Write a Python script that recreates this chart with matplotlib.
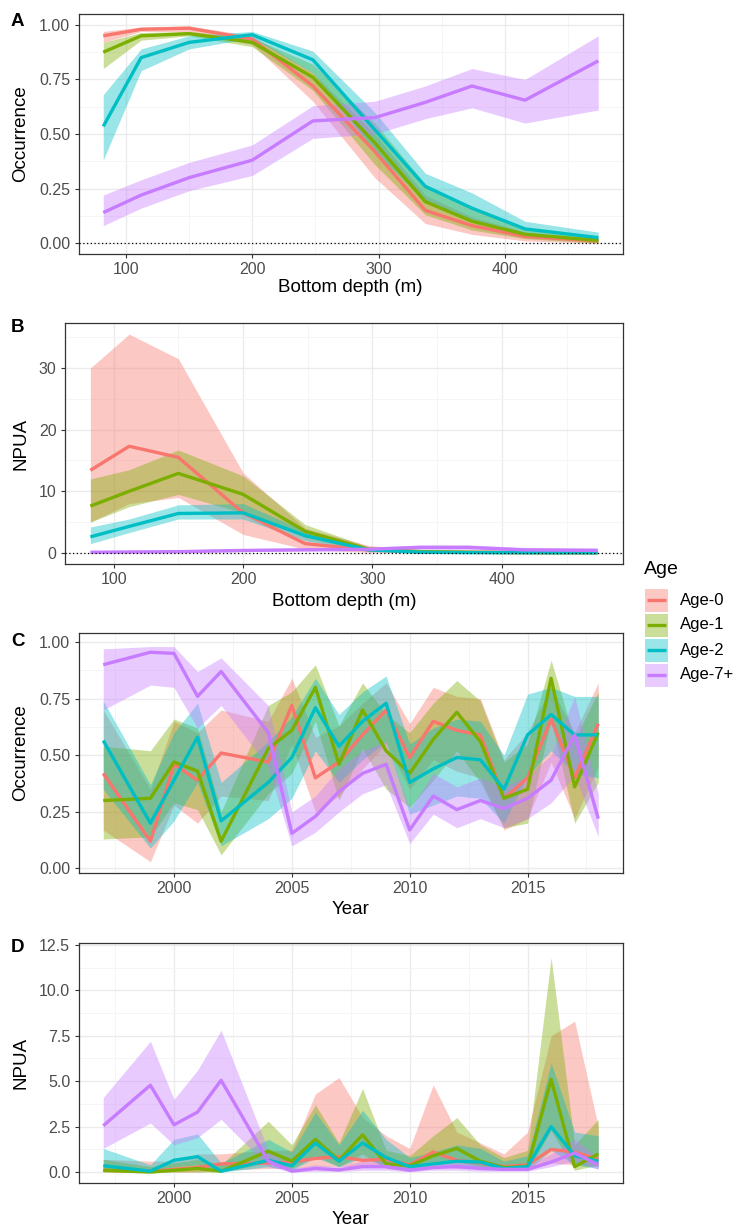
import matplotlib
matplotlib.use("Agg")
import matplotlib.pyplot as plt
from matplotlib.lines import Line2D
from matplotlib.patches import Rectangle
from matplotlib.ticker import AutoMinorLocator

plt.rcParams['font.family'] = ['Liberation Sans', 'DejaVu Sans']

ages = ["Age-0", "Age-1", "Age-2", "Age-7+"]
colors = ["#F8766D", "#7CAE00", "#00BFC4", "#C77CFF"]

depth = [82, 112, 150, 200, 248, 297, 337, 374, 416, 474]
years = [1997, 1999, 2000, 2001, 2002, 2004, 2005, 2006, 2007, 2008,
         2009, 2010, 2011, 2012, 2013, 2014, 2015, 2016, 2017, 2018]

# A: occurrence vs depth
occ_depth = {
    "Age-0": [0.95, 0.98, 0.985, 0.935, 0.72, 0.42, 0.15, 0.08, 0.03, 0.01],
    "Age-1": [0.875, 0.95, 0.96, 0.92, 0.76, 0.46, 0.19, 0.10, 0.04, 0.012],
    "Age-2": [0.535, 0.85, 0.92, 0.955, 0.84, 0.52, 0.26, 0.16, 0.065, 0.025],
    "Age-7+": [0.14, 0.22, 0.30, 0.38, 0.56, 0.575, 0.645, 0.72, 0.655, 0.835],
}
occ_depth_lo = {
    "Age-0": [0.92, 0.97, 0.97, 0.91, 0.65, 0.30, 0.09, 0.04, 0.01, 0.0],
    "Age-1": [0.80, 0.93, 0.95, 0.90, 0.70, 0.36, 0.13, 0.06, 0.02, 0.0],
    "Age-2": [0.38, 0.79, 0.89, 0.94, 0.78, 0.42, 0.19, 0.10, 0.04, 0.01],
    "Age-7+": [0.08, 0.16, 0.24, 0.31, 0.48, 0.50, 0.57, 0.62, 0.55, 0.61],
}
occ_depth_hi = {
    "Age-0": [0.97, 0.99, 0.995, 0.95, 0.78, 0.50, 0.22, 0.12, 0.05, 0.02],
    "Age-1": [0.92, 0.965, 0.97, 0.94, 0.82, 0.55, 0.27, 0.16, 0.07, 0.03],
    "Age-2": [0.68, 0.89, 0.95, 0.97, 0.88, 0.60, 0.32, 0.23, 0.10, 0.05],
    "Age-7+": [0.22, 0.29, 0.37, 0.45, 0.63, 0.65, 0.72, 0.80, 0.75, 0.95],
}

# B: NPUA vs depth
npua_depth = {
    "Age-0": [13.4, 17.3, 15.5, 6.5, 1.5, 0.5, 0.2, 0.1, 0.05, 0.02],
    "Age-1": [7.6, 10.0, 12.9, 9.5, 3.5, 0.6, 0.2, 0.1, 0.05, 0.03],
    "Age-2": [2.6, 4.3, 6.4, 6.5, 2.8, 0.5, 0.1, 0.05, 0.03, 0.02],
    "Age-7+": [0.1, 0.15, 0.2, 0.4, 0.5, 0.6, 0.9, 0.9, 0.5, 0.4],
}
npua_depth_lo = {
    "Age-0": [5.0, 8.0, 9.0, 3.0, 0.6, 0.1, 0.05, 0.02, 0.01, 0.0],
    "Age-1": [5.0, 7.5, 9.5, 6.5, 2.5, 0.3, 0.1, 0.05, 0.02, 0.01],
    "Age-2": [1.5, 3.3, 5.5, 5.5, 2.0, 0.2, 0.05, 0.02, 0.01, 0.0],
    "Age-7+": [0.0, 0.05, 0.1, 0.2, 0.3, 0.3, 0.5, 0.5, 0.2, 0.1],
}
npua_depth_hi = {
    "Age-0": [30.0, 35.5, 31.5, 13.0, 4.0, 1.2, 0.5, 0.3, 0.2, 0.1],
    "Age-1": [12.0, 13.5, 16.7, 12.5, 4.6, 1.0, 0.4, 0.2, 0.1, 0.08],
    "Age-2": [4.2, 5.5, 7.8, 8.0, 3.6, 0.9, 0.3, 0.15, 0.1, 0.08],
    "Age-7+": [0.4, 0.4, 0.5, 0.7, 0.8, 0.9, 1.3, 1.3, 0.9, 0.8],
}

# C: occurrence vs year
occ_year = {
    "Age-0": [0.42, 0.12, 0.46, 0.39, 0.51, 0.47, 0.72, 0.40, 0.47, 0.59,
              0.70, 0.49, 0.65, 0.61, 0.59, 0.31, 0.40, 0.66, 0.40, 0.64],
    "Age-1": [0.30, 0.31, 0.47, 0.43, 0.12, 0.53, 0.61, 0.80, 0.46, 0.70,
              0.52, 0.42, 0.57, 0.69, 0.56, 0.31, 0.35, 0.84, 0.36, 0.60],
    "Age-2": [0.565, 0.20, 0.39, 0.58, 0.21, 0.38, 0.49, 0.71, 0.54, 0.65,
              0.73, 0.38, 0.44, 0.49, 0.48, 0.35, 0.59, 0.68, 0.59, 0.59],
    "Age-7+": [0.90, 0.955, 0.95, 0.76, 0.87, 0.60, 0.155, 0.23, 0.34, 0.42,
               0.46, 0.17, 0.32, 0.26, 0.30, 0.265, 0.31, 0.39, 0.59, 0.22],
}
occ_year_lo = {
    "Age-0": [0.17, 0.03, 0.28, 0.20, 0.32, 0.30, 0.55, 0.25, 0.32, 0.44,
              0.55, 0.35, 0.48, 0.43, 0.40, 0.17, 0.22, 0.47, 0.22, 0.45],
    "Age-1": [0.13, 0.14, 0.29, 0.26, 0.06, 0.33, 0.42, 0.65, 0.30, 0.53,
              0.35, 0.27, 0.39, 0.52, 0.38, 0.18, 0.20, 0.66, 0.20, 0.38],
    "Age-2": [0.35, 0.09, 0.21, 0.38, 0.10, 0.22, 0.31, 0.52, 0.38, 0.48,
              0.56, 0.24, 0.28, 0.32, 0.31, 0.20, 0.41, 0.52, 0.42, 0.40],
    "Age-7+": [0.70, 0.81, 0.80, 0.62, 0.72, 0.45, 0.10, 0.16, 0.25, 0.33,
               0.37, 0.11, 0.24, 0.18, 0.22, 0.18, 0.22, 0.29, 0.41, 0.14],
}
occ_year_hi = {
    "Age-0": [0.70, 0.35, 0.65, 0.60, 0.70, 0.65, 0.84, 0.58, 0.63, 0.73,
              0.82, 0.64, 0.80, 0.76, 0.75, 0.48, 0.60, 0.80, 0.60, 0.82],
    "Age-1": [0.54, 0.52, 0.66, 0.62, 0.25, 0.72, 0.78, 0.90, 0.63, 0.82,
              0.68, 0.60, 0.73, 0.83, 0.74, 0.47, 0.55, 0.92, 0.57, 0.78],
    "Age-2": [0.74, 0.37, 0.60, 0.73, 0.38, 0.56, 0.67, 0.84, 0.68, 0.78,
              0.85, 0.55, 0.62, 0.66, 0.65, 0.50, 0.77, 0.80, 0.76, 0.76],
    "Age-7+": [0.97, 0.98, 0.98, 0.87, 0.93, 0.72, 0.25, 0.32, 0.44, 0.52,
               0.56, 0.26, 0.42, 0.36, 0.40, 0.36, 0.41, 0.50, 0.76, 0.33],
}

# D: NPUA vs year
npua_year = {
    "Age-0": [0.1, 0.05, 0.15, 0.25, 0.45, 0.5, 0.55, 0.75, 0.85, 0.65,
              0.7, 0.4, 1.1, 0.65, 0.5, 0.3, 0.4, 1.25, 1.1, 0.7],
    "Age-1": [0.1, 0.0, 0.1, 0.2, 0.05, 1.15, 0.6, 1.8, 0.65, 2.05,
              0.45, 0.35, 0.9, 1.3, 0.6, 0.25, 0.3, 5.1, 0.3, 1.0],
    "Age-2": [0.35, 0.05, 0.65, 0.85, 0.05, 0.65, 0.35, 1.6, 0.6, 1.6,
              0.8, 0.3, 0.45, 0.6, 0.55, 0.2, 0.3, 2.5, 0.9, 0.6],
    "Age-7+": [2.55, 4.78, 2.6, 3.3, 5.05, 0.6, 0.05, 0.2, 0.12, 0.3,
               0.3, 0.1, 0.25, 0.3, 0.2, 0.15, 0.15, 0.55, 1.05, 0.4],
}
npua_year_lo = {
    "Age-0": [0.0, 0.0, 0.0, 0.0, 0.1, 0.2, 0.2, 0.3, 0.3, 0.3,
              0.3, 0.1, 0.4, 0.2, 0.2, 0.1, 0.1, 0.5, 0.4, 0.3],
    "Age-1": [0.0, 0.0, 0.0, 0.0, 0.0, 0.5, 0.2, 0.9, 0.3, 1.0,
              0.2, 0.1, 0.4, 0.6, 0.3, 0.1, 0.1, 2.3, 0.1, 0.4],
    "Age-2": [0.1, 0.0, 0.3, 0.4, 0.0, 0.3, 0.1, 0.8, 0.3, 0.8,
              0.3, 0.1, 0.2, 0.3, 0.2, 0.1, 0.1, 1.2, 0.4, 0.2],
    "Age-7+": [1.3, 2.7, 1.5, 1.9, 2.9, 0.3, 0.0, 0.05, 0.03, 0.1,
               0.1, 0.02, 0.1, 0.1, 0.05, 0.05, 0.05, 0.3, 0.6, 0.15],
}
npua_year_hi = {
    "Age-0": [0.7, 0.6, 0.6, 1.0, 1.0, 1.2, 1.2, 4.3, 5.2, 3.0,
              2.0, 1.3, 4.8, 2.2, 1.6, 1.0, 2.2, 7.5, 8.3, 2.5],
    "Age-1": [0.7, 0.3, 0.5, 0.7, 0.4, 2.8, 1.5, 3.7, 1.6, 4.6,
              1.2, 0.9, 2.0, 3.0, 1.5, 0.8, 1.2, 11.8, 1.5, 2.9],
    "Age-2": [1.3, 0.4, 1.8, 2.1, 0.5, 1.8, 1.1, 3.3, 1.5, 3.4,
              1.8, 0.8, 1.1, 1.5, 1.3, 0.6, 0.9, 6.0, 2.2, 2.0],
    "Age-7+": [4.1, 7.2, 4.0, 5.6, 7.8, 1.2, 0.2, 0.4, 0.3, 0.6,
               0.6, 0.3, 0.5, 0.6, 0.4, 0.35, 0.35, 1.0, 1.8, 0.8],
}

W, H = 736, 1231
fig = plt.figure(figsize=(W / 100, H / 100), dpi=100)


def fx(px):
    return px / W


def fy(py):
    return 1 - py / H


def make_axes(left, top, right, bottom):
    return fig.add_axes([fx(left), fy(bottom), (right - left) / W, (bottom - top) / H])


def style_axes(ax):
    ax.set_facecolor("white")
    for s in ax.spines.values():
        s.set_color("#333333")
        s.set_linewidth(0.9)
    ax.grid(True, which="major", color="#EBEBEB", linewidth=1.0, zorder=0)
    ax.grid(True, which="minor", color="#F4F4F4", linewidth=0.6, zorder=0)
    ax.xaxis.set_minor_locator(AutoMinorLocator(2))
    ax.yaxis.set_minor_locator(AutoMinorLocator(2))
    ax.tick_params(which="major", length=3, color="#333333", labelsize=11.5, labelcolor="#4D4D4D", pad=3)
    ax.tick_params(which="minor", length=0)
    ax.set_axisbelow(True)


def draw(ax, x, fit, lo, hi):
    for age, c in zip(ages, colors):
        ax.fill_between(x, lo[age], hi[age], color=c, alpha=0.4, linewidth=0, zorder=2)
    for age, c in zip(ages, colors):
        ax.plot(x, fit[age], color=c, linewidth=2.4, zorder=3, solid_capstyle="butt")


xlab_text = {"depth": "Bottom depth (m)", "year": "Year"}


def labels(left, right, xlab_y, ylab, top, bottom):
    fig.text(fx((left + right) / 2), fy(xlab_y), xlab_text[ylab[1]], fontsize=13.5,
             ha="center", va="center")
    fig.text(fx(21), fy((top + bottom) / 2), ylab[0], fontsize=13.5, rotation=90,
             ha="center", va="center")


# Panel A
axA = make_axes(78.5, 14, 623, 254)
style_axes(axA)
draw(axA, depth, occ_depth, occ_depth_lo, occ_depth_hi)
axA.axhline(0, color="black", linestyle=(0, (1, 2)), linewidth=0.9, zorder=4)
axA.set_xlim(62.4, 493.6)
axA.set_ylim(-0.05, 1.05)
axA.set_xticks([100, 200, 300, 400])
axA.set_yticks([0, 0.25, 0.5, 0.75, 1.0])
axA.set_yticklabels(["0.00", "0.25", "0.50", "0.75", "1.00"])
labels(78.5, 623, 287, ("Occurrence", "depth"), 14, 254)

# Panel B
axB = make_axes(65, 323, 623, 564)
style_axes(axB)
draw(axB, depth, npua_depth, npua_depth_lo, npua_depth_hi)
axB.axhline(0, color="black", linestyle=(0, (1, 2)), linewidth=0.9, zorder=4)
axB.set_xlim(62.4, 493.6)
axB.set_ylim(-1.8, 37.3)
axB.set_xticks([100, 200, 300, 400])
axB.set_yticks([0, 10, 20, 30])
labels(65, 623, 601, ("NPUA", "depth"), 323, 564)

# Panel C
axC = make_axes(78.5, 633, 623, 873)
style_axes(axC)
draw(axC, years, occ_year, occ_year_lo, occ_year_hi)
axC.set_xlim(1995.95, 2019.05)
axC.set_ylim(-0.02, 1.04)
axC.set_xticks([2000, 2005, 2010, 2015])
axC.set_yticks([0, 0.25, 0.5, 0.75, 1.0])
axC.set_yticklabels(["0.00", "0.25", "0.50", "0.75", "1.00"])
labels(78.5, 623, 910, ("Occurrence", "year"), 633, 873)

# Panel D
axD = make_axes(78.5, 943, 623, 1183)
style_axes(axD)
draw(axD, years, npua_year, npua_year_lo, npua_year_hi)
axD.set_xlim(1995.95, 2019.05)
axD.set_ylim(-0.6, 12.6)
axD.set_xticks([2000, 2005, 2010, 2015])
axD.set_yticks([0, 2.5, 5, 7.5, 10, 12.5])
axD.set_yticklabels(["0.0", "2.5", "5.0", "7.5", "10.0", "12.5"])
labels(78.5, 623, 1219, ("NPUA", "year"), 943, 1183)

# panel letters
for letter, y in zip("ABCD", [21, 328, 642, 948]):
    fig.text(fx(17.5), fy(y), letter, fontsize=13.5, fontweight="bold", va="center", ha="center")

# legend (ggplot style: filled key with line through it)
fig.text(fx(644), fy(569), "Age", fontsize=14, ha="left", va="center")
for i, (age, c) in enumerate(zip(ages, colors)):
    cy = 600 + 25 * i
    fig.add_artist(Rectangle((fx(645), fy(cy + 11.5)), 23 / W, 23 / H, transform=fig.transFigure,
                             facecolor=c, alpha=0.4, edgecolor="none"))
    fig.add_artist(Line2D([fx(647), fx(666)], [fy(cy), fy(cy)], transform=fig.transFigure,
                          color=c, linewidth=2.4, solid_capstyle="butt"))
    fig.text(fx(680), fy(cy), age, fontsize=12, ha="left", va="center")

fig.savefig("out.png", dpi=100)
